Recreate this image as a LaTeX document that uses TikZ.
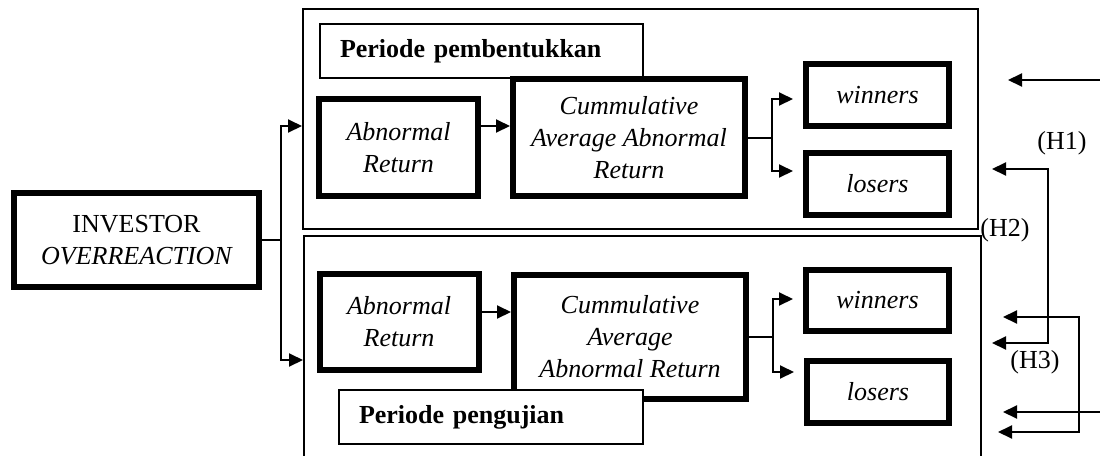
\documentclass[tikz,border=0pt]{standalone}
\usepackage{fontspec}
\setmainfont{Liberation Serif}
\usetikzlibrary{arrows.meta,positioning,calc}
\tikzset{
  kotak/.style={draw,line width=3pt,align=center,inner sep=2pt,font=\itshape},
  bingkai/.style={draw,line width=1pt},
  judul/.style={draw,line width=1pt,fill=white,font=\bfseries,align=left,
    inner xsep=10pt,inner ysep=0pt,minimum height=27pt},
  garis/.style={line width=1pt},
  panah/.style={garis,-{Triangle[length=7pt,width=6.5pt]}},
  duapanah/.style={garis,{Triangle[length=7pt,width=6.5pt]}-{Triangle[length=7pt,width=6.5pt]}},
}

\begin{document}
\fontsize{13}{16}\selectfont
\begin{tikzpicture}[x=0.5pt,y=-0.5pt]
  \useasboundingbox (0,0) rectangle (1100,456);
  % periode pembentukkan
  \node[bingkai,minimum width=337.5pt,minimum height=110pt] (form) at (640.5,119) {};
  \node[judul,text width=141.5pt] (per1) at (481.5,51) {Periode pembentukkan};
  \node[kotak,minimum width=79.5pt,minimum height=48.5pt] (ar1) at (398.5,147.5) {Abnormal\\Return};
  \node[kotak,minimum width=116pt,minimum height=58.5pt] (caar1) at (629,137.5)
    {Cummulative\\Average Abnormal\\Return};
  \node[kotak,minimum width=71.5pt,minimum height=31pt] (win1) at (877.5,95) {winners};
  \node[kotak,minimum width=71.5pt,minimum height=31pt] (los1) at (877.5,183.5) {losers};
  % periode pengujian
  \node[bingkai,minimum width=338.5pt,minimum height=117pt] (test) at (642.5,353) {};
  \node[kotak,minimum width=79.5pt,minimum height=48pt] (ar2) at (399,322) {Abnormal\\Return};
  \node[kotak,minimum width=116pt,minimum height=62pt] (caar2) at (630,337)
    {Cummulative\\Average\\Abnormal Return};
  \node[judul,text width=132pt] (per2) at (491,417) {Periode pengujian};
  \node[kotak,minimum width=71.5pt,minimum height=30.5pt] (win2) at (877.5,300.5) {winners};
  \node[kotak,minimum width=71pt,minimum height=31pt] (los2) at (878,392) {losers};
  % investor
  \node[kotak,minimum width=122.5pt,minimum height=47pt] (inv) at (136.5,240)
    {{\upshape INVESTOR}\\OVERREACTION};
  \draw[garis] (inv.east) -- ++(9.5pt,0) coordinate (pecah);
  \draw[panah] (pecah) |- ([yshift=-3.5pt]form.west);
  \draw[panah] (pecah) |- ([yshift=-3.5pt]test.west);
  % alur di dalam
  \path ([yshift=10.75pt]ar1.east) coordinate (a1);
  \draw[panah] (a1) -- (a1 -| caar1.west);
  \path ([yshift=5pt]ar2.east) coordinate (a2);
  \draw[panah] (a2) -- (a2 -| caar2.west);
  \draw[garis] (caar1.east) -- ++(12pt,0) coordinate (cab1);
  \draw[panah] (cab1) |- ([xshift=-5pt,yshift=-2pt]win1.west);
  \draw[panah] (cab1) |- ([xshift=-5pt,yshift=6.25pt]los1.west);
  \draw[garis] (caar2.east) -- ++(12pt,0) coordinate (cab2);
  \draw[panah] (cab2) |- ([xshift=-5pt,yshift=0.75pt]win2.west);
  \draw[panah] (cab2) |- ([xshift=-5pt,yshift=10pt]los2.west);
  % hipotesis
  \coordinate (h1a) at (1100,80);  \coordinate (h1b) at (1008,80);
  \coordinate (h2a) at (992,169);  \coordinate (h2b) at (992,343);
  \coordinate (h3a) at (1003,317); \coordinate (h3b) at (998,432);
  \coordinate (h4a) at (1100,412); \coordinate (h4b) at (1003,412);
  \draw[panah] (h1a) -- (h1b);
  \draw[duapanah] (h2a) -- ++(56,0) |- (h2b);
  \draw[duapanah] (h3a) -- ++(76,0) |- (h3b);
  \draw[panah] (h4a) -- (h4b);
  \node (lh1) at (1062,143) {(H1)};
  \node (lh2) at (1005,230) {(H2)};
  \node (lh3) at (1035,362) {(H3)};
\end{tikzpicture}
\end{document}
